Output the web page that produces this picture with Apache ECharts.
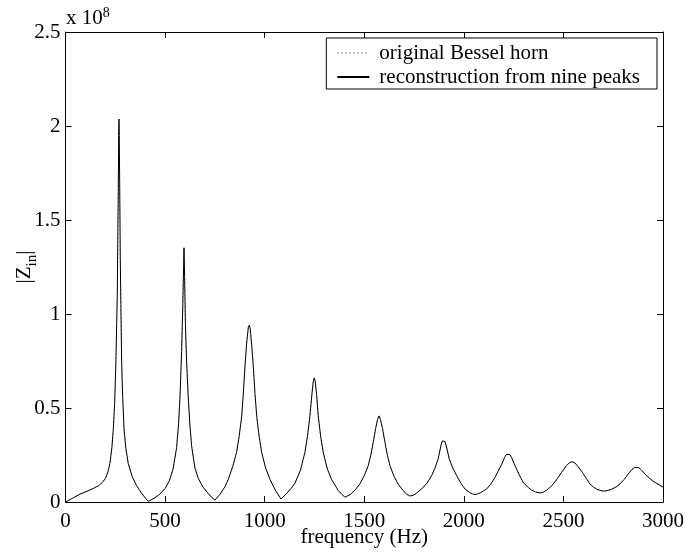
<!DOCTYPE html>
<html><head><meta charset="utf-8">
<script src="https://cdn.jsdelivr.net/npm/echarts@6/dist/echarts.min.js"></script>
<style>html,body{margin:0;padding:0;background:#fff}#c{width:685px;height:553px}</style>
</head><body><div id="c"></div>
<script>
// |Z_in| in units of 1e8, frequency in Hz
const seriesNames = ['original Bessel horn', 'reconstruction from nine peaks'];
const xTickValues = [0, 500, 1000, 1500, 2000, 2500, 3000];
const yTickValues = [0, 0.5, 1, 1.5, 2, 2.5];

const reconstruction = [
  [0,0],[35,0.02],[73,0.042],[110,0.058],[140,0.072],[165,0.086],[185,0.104],[200,0.125],[213,0.16],[223,0.205],[233,0.29],
  [240,0.387],[247,0.53],[253,0.74],[257,0.95],[260,1.1],[263,1.45],[265,1.65],[267,1.95],[268.5,2.037],[270,1.95],
  [272,1.7],[275,1.3],[278,1.05],[282,0.74],[287,0.56],[294,0.387],[303,0.285],[315,0.205],[335,0.135],[357,0.087],
  [380,0.05],[400,0.022],[416,0.003],
  [445,0.02],[474,0.042],[500,0.072],[520,0.11],[540,0.175],[558,0.29],[568,0.42],[575,0.564],[583,0.8],[589,1.05],
  [593,1.25],[595,1.352],[598,1.2],[602,0.95],[608,0.75],[616,0.564],[624,0.42],[633,0.30],[650,0.18],[667,0.125],
  [690,0.08],[720,0.04],[750,0.01],
  [775,0.04],[800,0.08],[817,0.12],[840,0.19],[859,0.264],[872,0.35],[885,0.458],[893,0.58],[901,0.72],[910,0.85],
  [918,0.93],[923,0.941],[928,0.92],[936,0.82],[943,0.72],[951,0.58],[960,0.458],[972,0.35],[985,0.264],[1005,0.18],
  [1027,0.12],[1055,0.06],[1082,0.016],
  [1110,0.045],[1135,0.075],[1152,0.1],[1180,0.17],[1202,0.264],[1215,0.35],[1227,0.458],[1237,0.57],[1244,0.64],[1249,0.66],
  [1254,0.64],[1261,0.57],[1269,0.458],[1281,0.35],[1294,0.264],[1315,0.175],[1336,0.12],[1370,0.06],[1403,0.025],
  [1430,0.04],[1455,0.065],[1478,0.096],[1500,0.14],[1520,0.193],[1533,0.25],[1545,0.317],[1557,0.39],[1567,0.44],
  [1574,0.458],[1581,0.44],[1592,0.39],[1604,0.317],[1616,0.25],[1629,0.193],[1650,0.135],[1671,0.094],[1700,0.055],
  [1715,0.04],[1729,0.032],[1745,0.035],
  [1760,0.045],[1788,0.07],[1815,0.1],[1838,0.14],[1855,0.18],[1871,0.228],[1885,0.3],[1892,0.325],[1898,0.334],[1905,0.322],[1912,0.298],
  [1927,0.228],[1945,0.18],[1964,0.14],[1985,0.1],[2006,0.069],[2030,0.05],[2043,0.043],[2056,0.04],[2070,0.043],
  [2085,0.05],[2115,0.07],[2135,0.095],[2156,0.13],[2175,0.17],[2190,0.2],[2205,0.238],[2215,0.254],[2223,0.26],[2232,0.252],[2240,0.236],
  [2257,0.193],[2278,0.145],[2298,0.105],[2320,0.08],[2340,0.063],[2360,0.053],[2382,0.048],
  [2400,0.053],[2416,0.063],[2435,0.08],[2449,0.096],[2470,0.125],[2491,0.158],[2515,0.193],[2530,0.209],[2544,0.214],[2557,0.208],[2570,0.193],
  [2595,0.158],[2615,0.125],[2633,0.096],[2650,0.08],[2667,0.068],[2690,0.06],[2708,0.058],
  [2725,0.062],[2742,0.068],[2765,0.08],[2784,0.096],[2805,0.12],[2825,0.149],[2845,0.174],[2857,0.184],[2867,0.187],[2878,0.183],[2890,0.172],
  [2909,0.149],[2930,0.128],[2951,0.11],[2975,0.095],[3000,0.08]
];

const original = [
  [0,0],[35,0.02],[73,0.042],[110,0.058],[140,0.072],[165,0.086],[185,0.104],[200,0.125],[213,0.16],[223,0.205],[233,0.29],
  [240,0.387],[247,0.53],[253,0.74],[257,0.95],[260,1.1],[263,1.45],[265,1.62],[267,1.9],[268.5,2.0],[270,1.92],
  [272,1.7],[275,1.3],[278,1.05],[282,0.74],[287,0.56],[294,0.387],[303,0.285],[315,0.205],[335,0.135],[357,0.087],
  [380,0.05],[400,0.022],[416,0.003],
  [445,0.02],[474,0.042],[500,0.072],[520,0.11],[540,0.175],[558,0.29],[568,0.42],[575,0.564],[583,0.8],[589,1.05],
  [593,1.23],[595,1.33],[598,1.2],[602,0.95],[608,0.75],[616,0.564],[624,0.42],[633,0.30],[650,0.18],[667,0.125],
  [690,0.08],[720,0.04],[750,0.01],
  [775,0.04],[800,0.08],[817,0.12],[840,0.19],[859,0.264],[872,0.35],[885,0.458],[893,0.58],[901,0.72],[910,0.85],
  [918,0.93],[923,0.94],[928,0.92],[936,0.82],[943,0.72],[951,0.58],[960,0.458],[972,0.35],[985,0.264],[1005,0.18],
  [1027,0.12],[1055,0.06],[1082,0.016],
  [1110,0.045],[1135,0.075],[1152,0.1],[1180,0.17],[1202,0.264],[1215,0.35],[1227,0.458],[1237,0.57],[1244,0.64],[1249,0.66],
  [1254,0.64],[1261,0.57],[1269,0.458],[1281,0.35],[1294,0.264],[1315,0.175],[1336,0.12],[1370,0.06],[1403,0.025],
  [1430,0.04],[1455,0.065],[1478,0.096],[1500,0.14],[1520,0.193],[1533,0.25],[1545,0.317],[1557,0.39],[1567,0.44],
  [1574,0.458],[1581,0.44],[1592,0.39],[1604,0.317],[1616,0.25],[1629,0.193],[1650,0.135],[1671,0.094],[1700,0.055],
  [1715,0.04],[1729,0.032],[1745,0.035],
  [1760,0.045],[1788,0.07],[1815,0.1],[1838,0.14],[1855,0.18],[1871,0.228],[1885,0.3],[1892,0.325],[1898,0.334],[1905,0.322],[1912,0.298],
  [1927,0.228],[1945,0.18],[1964,0.14],[1985,0.1],[2006,0.069],[2030,0.05],[2043,0.043],[2056,0.04],[2070,0.043],
  [2085,0.05],[2115,0.07],[2135,0.095],[2156,0.13],[2175,0.17],[2190,0.2],[2205,0.238],[2215,0.254],[2223,0.26],[2232,0.252],[2240,0.236],
  [2257,0.193],[2278,0.145],[2298,0.105],[2320,0.08],[2340,0.063],[2360,0.053],[2382,0.048],
  [2400,0.053],[2416,0.063],[2435,0.08],[2449,0.096],[2470,0.125],[2491,0.158],[2515,0.193],[2530,0.209],[2544,0.214],[2557,0.208],[2570,0.193],
  [2595,0.158],[2615,0.125],[2633,0.096],[2650,0.08],[2667,0.068],[2690,0.06],[2708,0.058],
  [2725,0.062],[2742,0.068],[2765,0.08],[2784,0.096],[2805,0.12],[2825,0.149],[2845,0.174],[2857,0.184],[2867,0.187],[2878,0.183],[2890,0.172],
  [2909,0.149],[2930,0.13],[2951,0.112],[2975,0.093],[3000,0.075]
];

const FONT = 'Liberation Serif';
const FS = 21;
const chart = echarts.init(document.getElementById('c'), null, {renderer: 'canvas'});

const axisLine = {show: true, onZero: false, lineStyle: {color: '#000', width: 1}};
const axisTick = {show: true, inside: true, length: 6, lineStyle: {color: '#000', width: 1}};
const label = {color: '#000', fontFamily: FONT, fontSize: FS};

chart.setOption({
  animation: false,
  backgroundColor: '#fff',
  grid: {left: 65.5, right: 22, top: 32, bottom: 51, containLabel: false, outerBoundsMode: 'none'},
  xAxis: [
    {type: 'value', min: 0, max: 3000, interval: 500, position: 'bottom',
     axisLine, axisTick, splitLine: {show: false},
     axisLabel: Object.assign({margin: 9, formatter: v => xTickValues.includes(v) ? String(v) : ''}, label),
     name: 'frequency (Hz)', nameLocation: 'middle', nameGap: 25, nameMoveOverlap: false,
     nameTextStyle: {color: '#000', fontFamily: FONT, fontSize: FS}},
    {type: 'value', min: 0, max: 3000, interval: 500, position: 'top',
     axisLine, axisTick, splitLine: {show: false}, axisLabel: {show: false}}
  ],
  yAxis: [
    {type: 'value', min: 0, max: 2.5, interval: 0.5, position: 'left',
     axisLine, axisTick, splitLine: {show: false},
     axisLabel: Object.assign({margin: 5, formatter: v => yTickValues.includes(v) ? String(v) : ''}, label),
     name: '{a||Z}{b|in}{a||}', nameLocation: 'middle', nameGap: 26, nameRotate: 90, nameMoveOverlap: false,
     nameTextStyle: {color: '#000', fontFamily: FONT, fontSize: FS,
       rich: {
         a: {color: '#000', fontFamily: FONT, fontSize: FS, lineHeight: 30},
         b: {color: '#000', fontFamily: FONT, fontSize: 15, lineHeight: 15, verticalAlign: 'bottom'}
       }}},
    {type: 'value', min: 0, max: 2.5, interval: 0.5, position: 'right',
     axisLine, axisTick, splitLine: {show: false}, axisLabel: {show: false}}
  ],
  legend: {
    data: seriesNames,
    orient: 'vertical', right: 28, top: 38,
    backgroundColor: '#fff', borderColor: '#000', borderWidth: 1,
    padding: [4.5, 17, 1.5, 10], itemGap: 3, itemWidth: 32, itemHeight: 21,
    itemStyle: {opacity: 0},
    textStyle: {color: '#000', fontFamily: FONT, fontSize: FS, padding: [0, 0, 0, 5]}
  },
  graphic: [{
    type: 'text', left: 66, top: 6, z: 10,
    style: {
      text: '{a|x 10}{s|8}', fontFamily: FONT,
      rich: {
        a: {fontFamily: FONT, fontSize: FS, lineHeight: 23, fill: '#000', verticalAlign: 'bottom'},
        s: {fontFamily: FONT, fontSize: 14, lineHeight: 14, fill: '#000', verticalAlign: 'top'}
      }
    }
  }],
  series: [
    {name: seriesNames[0], type: 'line', data: original, showSymbol: false, symbol: 'none', symbolSize: 0,
     lineStyle: {color: '#888', width: 1, type: [1, 3]}, itemStyle: {color: '#888'}, z: 2},
    {name: seriesNames[1], type: 'line', data: reconstruction, showSymbol: false, symbol: 'none', symbolSize: 0,
     lineStyle: {color: '#000', width: 1}, itemStyle: {color: '#000'}, z: 3}
  ]
});
</script>
</body></html>
